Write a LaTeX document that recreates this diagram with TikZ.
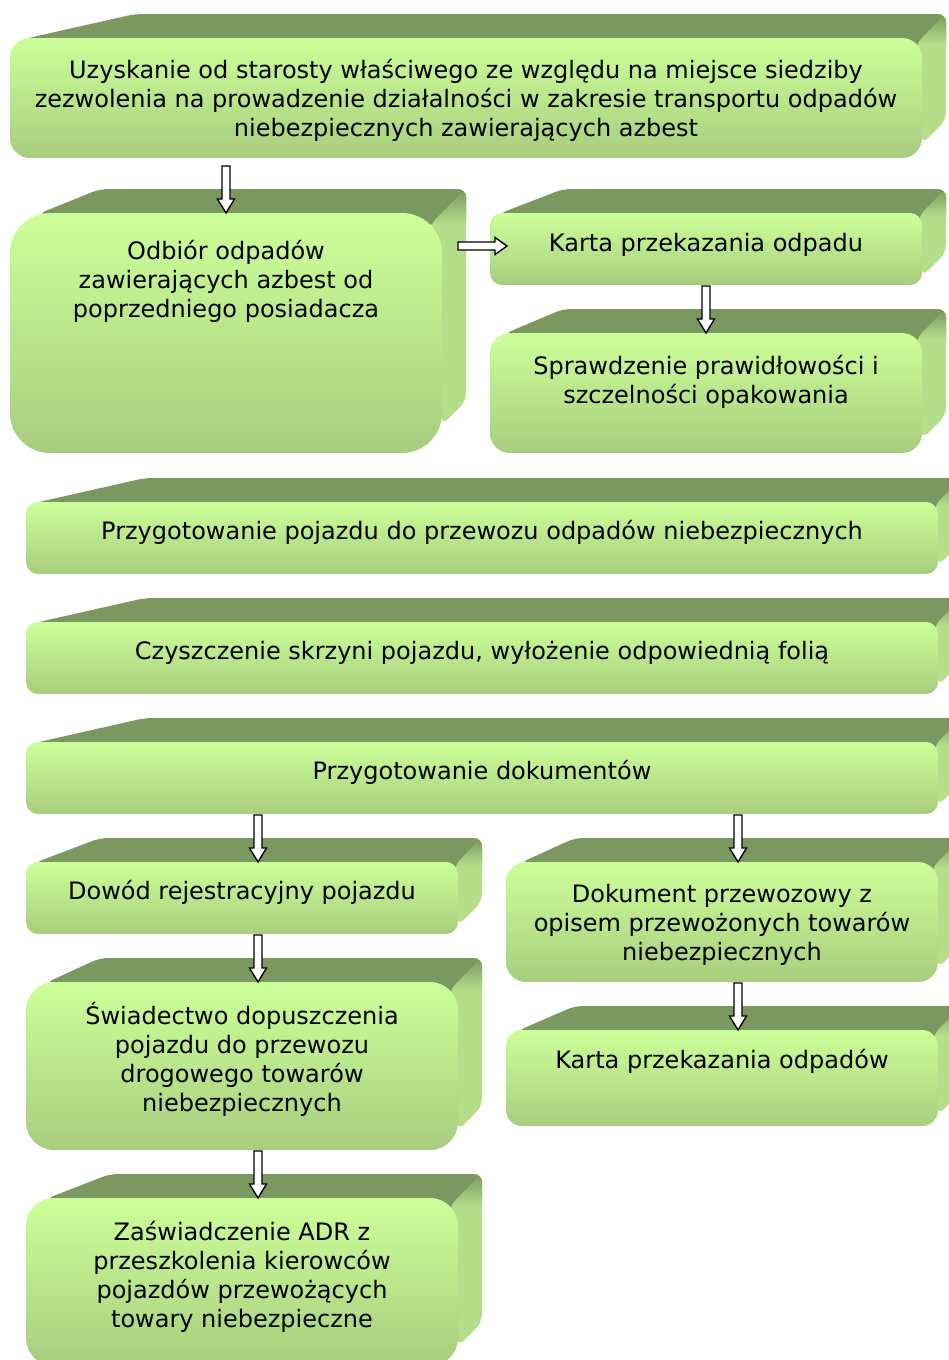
\documentclass[tikz,border=0pt]{standalone}
\usepackage{fontspec}
\setmainfont{DejaVu Sans}
\usetikzlibrary{calc}
\definecolor{ftop}{RGB}{204,255,153}
\definecolor{fbot}{RGB}{168,205,126}
\definecolor{tdark}{RGB}{122,152,95}
\definecolor{slight}{RGB}{180,222,138}
\newcommand\st{\rule{0pt}{24pt}}
% #1 name, #2 x1, #3 y1, #4 x2, #5 y2, #6 back-left x, #7 radius
\newcommand\tdbox[7]{%
  \fill[tdark, rounded corners=8pt] ({#2+0.7*#7},{#3+1}) -- (#6,{#3-24}) -- ({#4+24},{#3-24}) -- ({#4+24},{#3+12}) -- (#4,{#3+12}) -- cycle;
  \begin{scope}
    \clip[rounded corners=8pt] ({#4-0.3*#7},{#3+0.3*#7}) -- ({#4+24},{#3-24}) -- ({#4+24},{#5-24-0.7*#7}) -- (#4,{#5-0.7*#7}) -- cycle;
    \fill[slight] ({#4-40},{#3-30}) rectangle ({#4+30},#5);
    \shade[top color=tdark, bottom color=slight] ({#4-40},{#3-24}) rectangle ({#4+30},{#3+0.3*#7});
  \end{scope}
  \node[front, minimum width={(#4-#2)*1pt}, minimum height={(#5-#3)*1pt}, rounded corners=#7pt] (#1) at ({(#2+#4)/2},{(#3+#5)/2}) {};
}
\begin{document}
\begin{tikzpicture}[x=1pt,y=-1pt,
  front/.style={shape=rectangle, top color=ftop, bottom color=fbot, draw=none, inner sep=0pt, outer sep=0pt},
  txt/.style={anchor=north, inner sep=0pt, align=center, font=\fontsize{24pt}{29pt}\selectfont},
  vblock/.style={draw=black, fill=white, line width=1.4pt, line join=miter,
    to path={($(\tikztostart)+(-4,0)$) -- ($(\tikztotarget)+(-4,-14)$) -- ($(\tikztotarget)+(-8.5,-14)$) -- (\tikztotarget) -- ($(\tikztotarget)+(8.5,-14)$) -- ($(\tikztotarget)+(4,-14)$) -- ($(\tikztostart)+(4,0)$) -- cycle}},
  hblock/.style={draw=black, fill=white, line width=1.4pt, line join=miter,
    to path={($(\tikztostart)+(0,-4)$) -- ($(\tikztotarget)+(-12,-4)$) -- ($(\tikztotarget)+(-12,-8.5)$) -- (\tikztotarget) -- ($(\tikztotarget)+(-12,8.5)$) -- ($(\tikztotarget)+(-12,4)$) -- ($(\tikztostart)+(0,4)$) -- cycle}}
]
\useasboundingbox (0,0) rectangle (949,1360);
\clip (0,0) rectangle (949,1360);

\tdbox{f1}{10}{38}{922}{158}{135}{20}
\tdbox{f2}{10}{213}{442}{453}{100}{40}
\tdbox{f3}{490}{213}{922}{285}{563}{12}
\tdbox{f4}{490}{333}{922}{453}{563}{20}
\tdbox{f5}{26}{502}{938}{574}{145}{12}
\tdbox{f6}{26}{622}{938}{694}{145}{12}
\tdbox{f7}{26}{742}{938}{814}{145}{12}
\tdbox{f8}{26}{862}{458}{934}{100}{12}
\tdbox{f9}{506}{862}{938}{982}{575}{20}
\tdbox{f10}{26}{982}{458}{1150}{100}{28}
\tdbox{f11}{506}{1030}{938}{1126}{575}{16}
\tdbox{f12}{26}{1198}{458}{1366}{110}{28}

\node[txt] (t1) at (466,{78-24}) {\st Uzyskanie od starosty właściwego ze względu na miejsce siedziby\\zezwolenia na prowadzenie działalności w zakresie transportu odpadów\\niebezpiecznych zawierających azbest};
\node[txt] (t2) at (226,{259-24}) {\st Odbiór odpadów\\zawierających azbest od\\poprzedniego posiadacza};
\node[txt] (t3) at (706,{251-24}) {\st Karta przekazania odpadu};
\node[txt] (t4) at (706,{374-24}) {\st Sprawdzenie prawidłowości i\\szczelności opakowania};
\node[txt] (t5) at (482,{539-24}) {\st Przygotowanie pojazdu do przewozu odpadów niebezpiecznych};
\node[txt] (t6) at (482,{659-24}) {\st Czyszczenie skrzyni pojazdu, wyłożenie odpowiednią folią};
\node[txt] (t7) at (482,{779-24}) {\st Przygotowanie dokumentów};
\node[txt] (t8) at (242,{899-24}) {\st Dowód rejestracyjny pojazdu};
\node[txt] (t9) at (722,{902-24}) {\st Dokument przewozowy z\\opisem przewożonych towarów\\niebezpiecznych};
\node[txt] (t10) at (242,{1024-24}) {\st Świadectwo dopuszczenia\\pojazdu do przewozu\\drogowego towarów\\niebezpiecznych};
\node[txt] (t11) at (722,{1068-24}) {\st Karta przekazania odpadów};
\node[txt] (t12) at (242,{1240-24}) {\st Zaświadczenie ADR z\\przeszkolenia kierowców\\pojazdów przewożących\\towary niebezpieczne};

\coordinate (a1s) at ($(f1.south -| f2.north)+(0,8)$);
\draw[vblock] (a1s) to (f2.north);
\coordinate (a2s) at ($(f2.east |- f3.west)+(16,-3)$);
\coordinate (a2e) at ($(f3.west)+(17,-3)$);
\draw[hblock] (a2s) to (a2e);
\coordinate (a3s) at ($(f3.south)+(0,1)$);
\draw[vblock] (a3s) to (f4.north);
\coordinate (a4s) at ($(f7.south -| f8.north)+(16,1)$);
\coordinate (a4e) at ($(f8.north)+(16,0)$);
\draw[vblock] (a4s) to (a4e);
\coordinate (a5s) at ($(f7.south -| f9.north)+(16,1)$);
\coordinate (a5e) at ($(f9.north)+(16,0)$);
\draw[vblock] (a5s) to (a5e);
\coordinate (a6s) at ($(f8.south)+(16,1)$);
\coordinate (a6e) at ($(f10.north)+(16,0)$);
\draw[vblock] (a6s) to (a6e);
\coordinate (a7s) at ($(f9.south)+(16,1)$);
\coordinate (a7e) at ($(f11.north)+(16,0)$);
\draw[vblock] (a7s) to (a7e);
\coordinate (a8s) at ($(f10.south)+(16,1)$);
\coordinate (a8e) at ($(f12.north)+(16,0)$);
\draw[vblock] (a8s) to (a8e);
\end{tikzpicture}
\end{document}
